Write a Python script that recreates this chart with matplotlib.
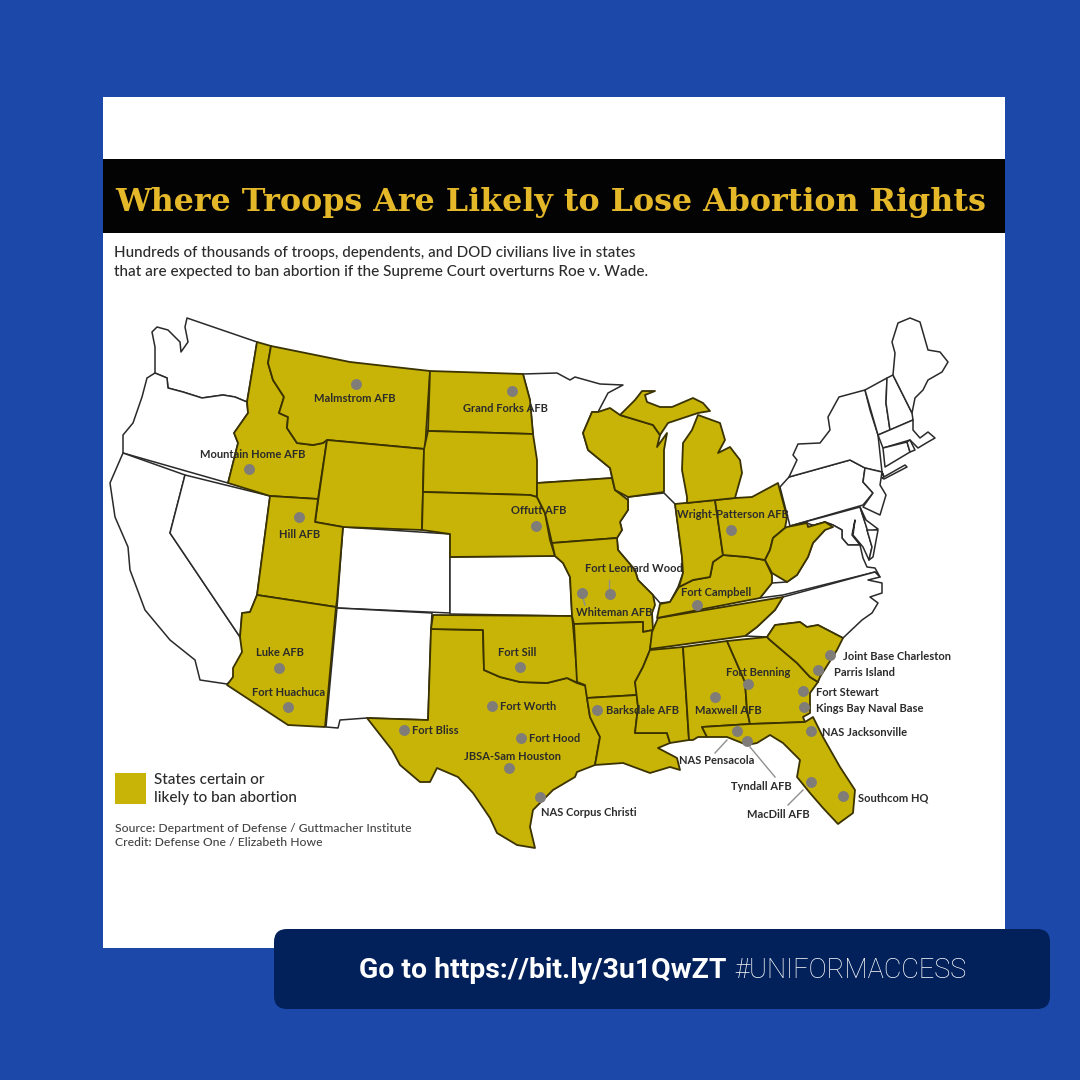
import matplotlib
matplotlib.use("Agg")
import matplotlib.pyplot as plt
from matplotlib.patches import Rectangle, FancyBboxPatch

# state outlines in image pixels
ban_states = {
    "ID": [(257,342),(271,346),(268,363),(273,380),(284,397),(279,413),(288,417),(287,428),(297,443),(313,445),(323,443),(327,440),(318,499),(270,496),(228,483),(238,443),(234,433),(248,413),(247,402)],
    "MT": [(271,346),(350,362),(430,371),(425,449),(327,440),(323,443),(313,445),(297,443),(287,428),(288,417),(279,413),(284,397),(273,380),(268,363)],
    "WY": [(327,440),(424,449),(422,530),(343,527),(315,522)],
    "ND": [(430,371),(523,374),(530,400),(533,434),(428,431)],
    "SD": [(428,431),(533,434),(537,460),(537,497),(530,495),(423,492),(424,449)],
    "NE": [(423,492),(530,495),(537,497),(545,513),(550,540),(555,556),(450,557),(450,534),(422,530)],
    "IA": [(537,483),(612,478),(615,490),(628,500),(628,510),(620,522),(622,530),(617,538),(552,543),(545,513),(537,497)],
    "UT": [(270,496),(318,499),(315,522),(343,527),(337,600),(336,607),(257,595)],
    "AZ": [(257,595),(336,607),(325,727),(288,725),(227,685),(233,677),(233,668),(242,652),(240,637),(242,613),(250,612)],
    "TX": [(431,629),(483,630),(484,670),(500,677),(520,682),(547,683),(567,678),(577,683),(586,686),(587,698),(590,717),(600,737),(595,765),(577,772),(575,777),(553,790),(533,810),(530,827),(535,848),(517,845),(497,833),(490,818),(473,793),(458,777),(437,768),(430,782),(420,782),(400,765),(392,750),(367,718),(428,720)],
    "OK": [(433,615),(572,616),(573,625),(578,683),(567,678),(547,683),(520,682),(500,677),(484,670),(483,630),(431,629)],
    "MO": [(552,543),(617,538),(618,550),(635,570),(638,580),(653,595),(655,605),(652,613),(653,630),(643,632),(643,622),(574,624),(572,616),(570,577),(563,563),(555,556)],
    "AR": [(574,624),(643,622),(643,632),(653,630),(650,650),(643,667),(635,682),(637,695),(587,698),(585,685),(577,682)],
    "LA": [(587,698),(637,695),(638,707),(635,733),(667,733),(670,743),(658,748),(677,758),(680,770),(670,767),(650,773),(623,763),(595,765),(600,737),(590,717)],
    "MS": [(650,650),(683,647),(689,740),(670,743),(667,733),(635,733),(638,707),(635,682),(643,667)],
    "AL": [(683,647),(727,641),(745,682),(747,710),(750,724),(702,727),(707,737),(698,737),(693,740),(689,740)],
    "GA": [(727,641),(767,637),(770,640),(797,663),(810,677),(818,682),(810,693),(810,713),(803,717),(805,722),(750,724),(747,710),(745,682)],
    "SC": [(767,637),(775,625),(800,622),(807,627),(818,625),(843,638),(837,650),(820,677),(818,682),(810,677),(797,663),(770,640)],
    "FL": [(702,727),(750,724),(805,722),(813,717),(823,737),(840,767),(855,790),(853,813),(838,824),(823,808),(810,793),(797,777),(800,760),(783,743),(770,735),(757,743),(747,745),(727,737),(707,737)],
    "TN": [(783,597),(658,618),(652,632),(650,649),(745,636),(757,627),(775,610)],
    "KY": [(723,555),(747,557),(765,560),(772,575),(772,583),(760,598),(657,618),(660,604),(670,602),(679,587),(693,580),(710,577),(713,562)],
    "IN": [(675,504),(715,500),(723,555),(713,562),(710,577),(693,580),(679,587),(683,573),(682,557)],
    "OH": [(715,500),(735,498),(752,497),(778,483),(787,517),(785,528),(773,538),(770,550),(765,560),(747,557),(723,555)],
    "WV": [(787,527),(807,523),(808,527),(825,522),(833,527),(825,530),(813,543),(808,557),(797,575),(787,582),(772,573),(765,560),(770,550),(773,538),(785,528)],
    "WI": [(598,412),(610,408),(620,415),(653,425),(660,435),(657,447),(667,433),(664,450),(664,492),(628,497),(615,490),(610,468),(588,450),(583,433),(592,412)],
    "UP": [(620,415),(635,400),(642,391),(655,391),(645,395),(647,402),(660,407),(672,407),(693,398),(703,403),(710,411),(698,413),(683,418),(668,423),(660,435),(653,425)],
    "MI": [(698,415),(720,423),(725,440),(718,453),(730,447),(740,460),(742,473),(735,498),(687,503),(687,497),(682,470),(683,443),(692,430)],
}
other_states = {
    "WA": [(187,318),(257,342),(247,402),(235,397),(223,395),(202,398),(183,392),(168,388),(167,378),(155,373),(155,347),(152,332),(157,327),(168,330),(180,342),(181,352),(188,342),(185,327)],
    "OR": [(155,373),(147,378),(142,397),(133,423),(123,435),(123,453),(228,483),(238,443),(234,433),(248,413),(247,402),(235,397),(223,395),(202,398),(183,392),(168,388),(167,378)],
    "CA": [(123,453),(185,475),(170,533),(240,637),(245,655),(235,670),(232,680),(227,684),(200,680),(195,660),(170,640),(145,610),(130,570),(128,547),(115,517),(110,483)],
    "NV": [(185,475),(270,496),(257,595),(250,612),(242,613),(240,637),(170,533)],
    "CO": [(343,527),(450,534),(450,613),(337,608)],
    "NM": [(337,608),(432,613),(431,629),(428,720),(367,718),(340,720),(338,728),(326,727)],
    "KS": [(450,557),(555,556),(563,563),(570,577),(572,616),(450,614)],
    "MN": [(523,374),(557,373),(570,380),(575,377),(600,384),(623,385),(608,393),(598,412),(592,412),(583,433),(588,450),(610,468),(612,478),(537,483),(535,473),(533,434),(530,400)],
    "IL": [(628,497),(664,493),(675,504),(682,557),(683,573),(678,587),(670,602),(660,603),(653,595),(638,580),(635,570),(618,550),(617,538),(622,530),(620,522),(628,510),(628,500)],
    "PA": [(780,487),(789,477),(850,460),(865,468),(863,482),(873,493),(863,505),(790,526)],
    "NY": [(789,477),(797,460),(793,455),(798,444),(820,443),(830,430),(828,417),(839,397),(865,390),(870,410),(878,435),(882,472),(884,477),(882,472),(865,468),(850,460)],
    "NJ": [(865,468),(882,472),(880,485),(886,495),(880,515),(863,507),(873,493),(863,482)],
    "MD": [(790,526),(860,507),(866,525),(868,533),(872,547),(869,560),(863,547),(853,535),(855,520),(852,535),(860,545),(848,545),(842,538),(842,530),(833,525),(825,522),(808,527),(807,523)],
    "DE": [(860,507),(866,520),(878,529),(868,532)],
    "DM": [(867,530),(878,530),(873,557),(869,560),(872,547)],
    "VA": [(807,523),(808,527),(825,522),(833,525),(842,530),(842,538),(848,545),(860,545),(863,558),(867,567),(875,568),(880,577),(875,572),(783,595),(760,598),(772,583),(787,582),(797,575),(808,557),(813,543),(825,530)],
    "NC": [(875,572),(880,577),(868,580),(882,583),(882,593),(870,597),(878,603),(872,613),(862,620),(843,638),(818,625),(807,627),(800,622),(775,625),(767,637),(745,636),(757,627),(775,610),(783,597)],
    "VT": [(865,390),(887,378),(886,403),(890,430),(878,435)],
    "NH": [(887,378),(893,375),(912,413),(913,420),(890,430),(886,403)],
    "ME": [(893,375),(895,353),(892,342),(898,323),(910,318),(920,322),(928,350),(940,352),(948,362),(942,372),(928,380),(923,390),(915,398),(912,413)],
    "MA": [(878,435),(913,420),(913,430),(920,438),(928,432),(935,438),(928,442),(918,448),(910,440),(883,448)],
    "CT": [(883,448),(907,442),(910,452),(885,467)],
    "RI": [(907,442),(910,440),(915,450),(910,452)],
    "LI": [(882,478),(905,465),(907,467),(884,479)],
}

base_names = ["Malmstrom AFB", "Grand Forks AFB", "Mountain Home AFB", "Hill AFB", "Offutt AFB",
              "Fort Leonard Wood", "Whiteman AFB", "Wright-Patterson AFB", "Fort Campbell", "Luke AFB",
              "Fort Huachuca", "Fort Sill", "Fort Worth", "Fort Bliss", "Fort Hood", "JBSA-Sam Houston",
              "NAS Corpus Christi", "Barksdale AFB", "Maxwell AFB", "Fort Benning", "Joint Base Charleston",
              "Parris Island", "Fort Stewart", "Kings Bay Naval Base", "NAS Jacksonville", "NAS Pensacola",
              "Tyndall AFB", "MacDill AFB", "Southcom HQ"]
base_x = [356, 512, 249, 299, 536, 610, 582, 731, 697, 279, 288, 520, 492, 404, 521, 509, 540, 597, 715, 748, 830, 818, 803, 804, 811, 737, 747, 811, 843]
base_y = [384, 391, 469, 517, 526, 594, 593, 530, 605, 668, 707, 667, 706, 730, 738, 768, 797, 710, 697, 684, 655, 670, 691, 707, 731, 731, 741, 782, 796]

label_x = [314, 463, 200, 279, 511, 585, 576, 677, 681, 256, 252, 498, 500, 412, 529, 464, 541, 606, 695, 726, 843, 834, 816, 816, 822, 679, 731, 747, 858]
label_y = [399, 409, 455, 534, 511, 569, 612, 515, 593, 653, 693, 652, 707, 731, 738, 757, 812, 710, 710, 672, 656, 672, 692, 708, 732, 761, 787, 815, 798]

# thin grey lines from a dot to its label
leader_lines = [((727,740),(715,753)), ((750,747),(775,777)), ((803,790),(788,805)), ((609,580),(609,590)), ((583,598),(585,605))]

BLUE = "#1b48a9"
NAVY = "#02205a"
GOLD = "#c8b406"
INK = "#2b2b2b"
BODY_FONT = ["Lato", "DejaVu Sans"]

fig = plt.figure(figsize=(10.8, 10.8), dpi=100, facecolor=BLUE)
ax = fig.add_axes([0, 0, 1, 1])
ax.set_xlim(0, 1080)
ax.set_ylim(1080, 0)
ax.axis("off")

# white card and black title bar
ax.add_patch(Rectangle((103, 97), 902, 851, fc="white", ec="none", zorder=1))
ax.add_patch(Rectangle((103, 159), 902, 74, fc="#030303", ec="none", zorder=2))
ax.text(115, 203, "Where Troops Are Likely to Lose Abortion Rights", color="#e5b82a", fontsize=22.9,
        family="DejaVu Serif", fontweight="bold", va="center", zorder=3)
ax.text(114, 253, "Hundreds of thousands of troops, dependents, and DOD civilians live in states", color=INK,
        fontsize=10.9, family=BODY_FONT, fontweight="medium", va="center", zorder=3)
ax.text(114, 272, "that are expected to ban abortion if the Supreme Court overturns Roe v. Wade.", color=INK,
        fontsize=11, family=BODY_FONT, fontweight="medium", va="center", zorder=3)

for outline in other_states.values():
    ax.fill(*zip(*outline), fc="white", ec="#2a2a2a", lw=1.1, joinstyle="round", zorder=3)
for outline in ban_states.values():
    ax.fill(*zip(*outline), fc=GOLD, ec="#3a3200", lw=1.3, joinstyle="round", zorder=4)

for start, end in leader_lines:
    ax.plot([start[0], end[0]], [start[1], end[1]], color="#8f8f8f", lw=1, zorder=5)
ax.scatter(base_x, base_y, s=62, color="#807c78", linewidths=0, zorder=6)
for name, x, y in zip(base_names, label_x, label_y):
    ax.text(x, y, name, color=INK, fontsize=8, family=BODY_FONT, fontweight="bold", va="center", zorder=7)

# legend and sources
ax.add_patch(Rectangle((115, 773), 31, 31, fc=GOLD, ec="none", zorder=3))
ax.text(154, 780, "States certain or", color=INK, fontsize=11, family=BODY_FONT, fontweight="medium", va="center", zorder=3)
ax.text(154, 798, "likely to ban abortion", color=INK, fontsize=11, family=BODY_FONT, fontweight="medium", va="center", zorder=3)
ax.text(115, 828, "Source: Department of Defense / Guttmacher Institute", color="#444444", fontsize=8.7, family=BODY_FONT, fontweight="medium", va="center", zorder=3)
ax.text(115, 843, "Credit: Defense One / Elizabeth Howe", color="#444444", fontsize=8.7, family=BODY_FONT, fontweight="medium", va="center", zorder=3)

# bottom banner
ax.add_patch(FancyBboxPatch((274, 929), 776, 80, boxstyle="round,pad=0,rounding_size=13", fc=NAVY, ec="none", zorder=8))
ax.text(359, 970, "Go to https://bit.ly/3u1QwZT", color="white", fontsize=20.4, family="Roboto", fontweight="bold", va="center", zorder=9)
ax.text(734, 970, "#UNIFORMACCESS", color="white", fontsize=19.5, family="Roboto", fontweight="light", va="center", zorder=9)

fig.savefig("out.png", dpi=100, facecolor=BLUE)
